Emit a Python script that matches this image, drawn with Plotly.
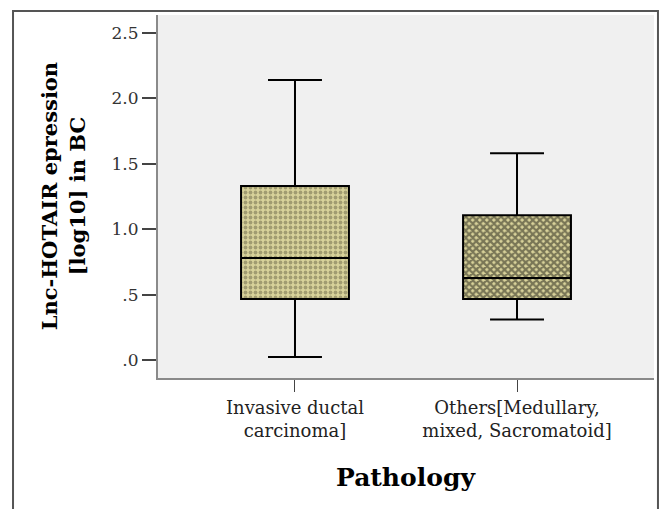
import plotly.graph_objects as go

categories = ["Invasive ductal<br>carcinoma]", "Others[Medullary,<br>mixed, Sacromatoid]"]
q1 = [0.466, 0.466]
median = [0.78, 0.626]
q3 = [1.33, 1.107]
lower = [0.023, 0.31]
upper = [2.14, 1.58]
ytick_vals = [0.0, 0.5, 1.0, 1.5, 2.0, 2.5]
ytick_text = [".0", ".5", "1.0", "1.5", "2.0", "2.5"]

serif = "DejaVu Serif"

fig = go.Figure()
fig.add_trace(go.Bar(
    x=categories,
    y=[b - a for a, b in zip(q1, q3)],
    base=q1,
    width=0.486,
    marker=dict(
        color="#d8d29a",
        line=dict(width=0),
        pattern=dict(shape=[".", "x"], fgcolor=["#6a6648", "#1a1a12"],
                     bgcolor="#d8d29a", size=[5, 5], solidity=[0.45, 0.7]),
    ),
    hoverinfo="skip",
    showlegend=False,
))
fig.add_trace(go.Box(
    x=categories,
    q1=q1, median=median, q3=q3, lowerfence=lower, upperfence=upper,
    width=0.486,
    whiskerwidth=0.5,
    fillcolor="rgba(0,0,0,0)",
    line=dict(color="black", width=2),
    boxpoints=False,
    showlegend=False,
))

fig.update_layout(
    width=665, height=509,
    margin=dict(l=158, r=11, t=15, b=131),
    paper_bgcolor="white",
    plot_bgcolor="#f0f0f0",
    font=dict(family=serif, color="black"),
    xaxis=dict(
        type="category", range=[-0.617, 1.617],
        showline=True, linecolor="#8a8a8a", linewidth=2,
        ticks="outside", ticklen=12, tickcolor="#444", tickwidth=1,
        tickfont=dict(size=18, family=serif, color="#222"),
        showgrid=False, zeroline=False, fixedrange=True,
    ),
    yaxis=dict(
        range=[-0.138, 2.638],
        tickvals=ytick_vals, ticktext=ytick_text,
        showline=True, linecolor="#8a8a8a", linewidth=2,
        ticks="outside", ticklen=14, tickcolor="#444", tickwidth=2,
        tickfont=dict(size=17, family=serif, color="#333"),
        showgrid=False, zeroline=False,
    ),
    shapes=[dict(type="rect", xref="paper", yref="paper",
                 x0=-0.2923, x1=1.008, y0=-0.39, y1=1.011,
                 line=dict(color="#555", width=2), layer="below")],
    annotations=[
        dict(text="<b>Lnc-HOTAIR epression<br>[log10] in BC</b>", textangle=-90,
             xref="paper", yref="paper", x=-0.192, y=0.5,
             xanchor="center", yanchor="middle",
             showarrow=False, font=dict(size=21, family=serif, color="black")),
        dict(text="<b>Pathology</b>", xref="paper", yref="paper", x=0.5, y=-0.275,
             xanchor="center", yanchor="middle",
             showarrow=False, font=dict(size=25, family=serif, color="black")),
    ],
)

fig.write_html("out.html")
